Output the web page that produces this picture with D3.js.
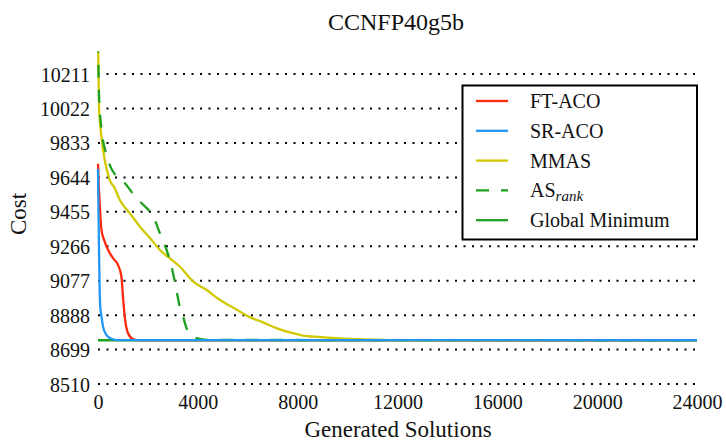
<!doctype html>
<html>
  <head>
    <meta charset="utf-8">
    <title>CCNFP40g5b</title>
    <script src="https://cdnjs.cloudflare.com/ajax/libs/d3/7.8.5/d3.min.js"></script>
    <style>
      body { margin: 0; background: #fff; }
    </style>
  </head>
  <body>
    <div id="chart"></div>
    <script>

      // values: [generated solutions, cost]
      const ftaco = [[0,9719],[30,9600],[68,9505],[136,9357],[268,9292],[400,9247],[600,9201],
        [800,9164],[938,9100],[1000,8990],[1070,8881],[1200,8790],[1400,8757],[1600,8751],[24000,8750]];
      const sraco = [[0,9690],[20,9450],[40,9250],[70,9000],[100,8920],[140,8880],[200,8826],
        [336,8780],[537,8758],[800,8751],[24000,8750]];
      const mmas = [[0,10400],[40,10033],[136,9869],[268,9741],[469,9631],[669,9585],[870,9521],
        [1270,9448],[1671,9375],[2140,9302],[2472,9247],[2873,9201],[3274,9155],[3807,9073],
        [4344,9027],[4877,8972],[5277,8939],[5678,8908],[6079,8877],[6612,8848],[7148,8817],
        [7681,8793],[8214,8776],[8884,8768],[9685,8760],[10486,8756],[12000,8751],[24000,8750]];
      const asrank = [[0,10400],[40,10100],[136,9915],[361,9759],[737,9649],[1070,9613],[1402,9554],
        [1671,9512],[2072,9457],[2272,9411],[2472,9340],[2673,9274],[2873,9192],[3005,9119],
        [3141,9027],[3274,8935],[3406,8881],[3606,8798],[3943,8762],[4400,8752],[24000,8750]];
      const globalMin = [[0,8750],[24000,8750]];

      const yTicks = [8510, 8699, 8888, 9077, 9266, 9455, 9644, 9833, 10022, 10211];
      const xTicks = [0, 4000, 8000, 12000, 16000, 20000, 24000];

      const width = 726, height = 442;
      const serif = '"Liberation Serif", "Times New Roman", "DejaVu Serif", serif';

      const svg = d3.select('#chart')
        .append('svg')
        .attr('width', width)
        .attr('height', height)
        .style('font-family', serif);

      const x = d3.scaleLinear().domain([0, 24000]).range([98, 697]);
      const y = d3.scaleLinear().domain([8510, 10335]).range([384, 51.5]);

      // clip so lines starting above the top are cut
      svg.append('clipPath').attr('id', 'plot-clip')
        .append('rect')
        .attr('x', x(0) - 2).attr('y', y(10335))
        .attr('width', x(24000) - x(0) + 4).attr('height', y(8510) - y(10335));

      // dotted horizontal grid
      svg.append('g')
        .selectAll('line')
        .data(yTicks)
        .join('line')
        .attr('x1', x(0))
        .attr('x2', x(24000))
        .attr('y1', d => y(d))
        .attr('y2', d => y(d))
        .attr('stroke', '#000')
        .attr('stroke-width', 2)
        .attr('stroke-dasharray', '2,6.5');

      // y axis (no domain line, no ticks)
      const yAxis = svg.append('g')
        .attr('transform', `translate(${x(0) - 8},0)`)
        .call(d3.axisLeft(y).tickValues(yTicks).tickSize(0).tickPadding(0).tickFormat(d3.format('d')));
      yAxis.select('.domain').remove();
      yAxis.attr('font-family', null);
      yAxis.selectAll('text')
        .style('font-family', serif).style('font-size', '20px').style('fill', '#111')
        .attr('dy', '0.35em');

      const xAxis = svg.append('g')
        .attr('transform', `translate(0,${y(8510) + 6})`)
        .call(d3.axisBottom(x).tickValues(xTicks).tickSize(0).tickPadding(0).tickFormat(d3.format('d')));
      xAxis.select('.domain').remove();
      xAxis.attr('font-family', null);
      xAxis.selectAll('text')
        .style('font-family', serif).style('font-size', '20px').style('fill', '#111')
        .attr('dy', '0.95em');

      const line = d3.line()
        .x(d => x(d[0]))
        .y(d => y(d[1]))
        .curve(d3.curveMonotoneX);

      const series = [
        { name: 'Global Minimum', data: globalMin, color: '#1fa01f', dash: null },
        { name: 'FT-ACO', data: ftaco, color: '#ff2a0e', dash: null },
        { name: 'MMAS', data: mmas, color: '#d2c800', dash: null },
        { name: 'ASrank', data: asrank, color: '#1fa01f', dash: '13,12' },
        { name: 'SR-ACO', data: sraco, color: '#2196f3', dash: null }
      ];

      svg.append('g')
        .attr('clip-path', 'url(#plot-clip)')
        .selectAll('path')
        .data(series)
        .join('path')
        .attr('d', d => line(d.data))
        .attr('fill', 'none')
        .attr('stroke', d => d.color)
        .attr('stroke-width', 2.3)
        .attr('stroke-dasharray', d => d.dash);

      // title and labels
      svg.append('text')
        .attr('x', 396).attr('y', 30)
        .attr('text-anchor', 'middle')
        .style('font-size', '24px')
        .style('fill', '#111')
        .text('CCNFP40g5b');

      svg.append('text')
        .attr('x', 398).attr('y', 437)
        .attr('text-anchor', 'middle')
        .style('font-size', '23px')
        .style('fill', '#111')
        .text('Generated Solutions');

      svg.append('text')
        .attr('transform', 'translate(26,214) rotate(-90)')
        .attr('text-anchor', 'middle')
        .style('font-size', '23px')
        .style('fill', '#111')
        .text('Cost');

      // legend
      const legendItems = [
        { label: 'FT-ACO', color: '#ff2a0e', dash: null },
        { label: 'SR-ACO', color: '#2196f3', dash: null },
        { label: 'MMAS', color: '#d2c800', dash: null },
        { label: 'AS', sub: 'rank', color: '#1fa01f', dash: '13,12' },
        { label: 'Global Minimum', color: '#1fa01f', dash: null }
      ];

      const legend = svg.append('g');
      legend.append('rect')
        .attr('x', 462.5).attr('y', 85.5)
        .attr('width', 234.5).attr('height', 154)
        .attr('fill', '#fff')
        .attr('stroke', '#000')
        .attr('stroke-width', 2);

      const rows = legend.selectAll('g.row')
        .data(legendItems)
        .join('g')
        .attr('class', 'row')
        .attr('transform', (d, i) => `translate(0,${101 + i * 29.8})`);

      rows.append('line')
        .attr('x1', 476).attr('x2', 508)
        .attr('stroke', d => d.color)
        .attr('stroke-width', 2.3)
        .attr('stroke-dasharray', d => d.dash);

      const labels = rows.append('text')
        .attr('x', 530)
        .attr('dy', '0.35em')
        .style('font-size', '20px')
        .style('fill', '#111');
      labels.append('tspan').text(d => d.label);
      labels.filter(d => d.sub)
        .append('tspan')
        .attr('dy', 4)
        .style('font-size', '15px')
        .style('font-style', 'italic')
        .text(d => d.sub);

    </script>
  </body>
</html>
